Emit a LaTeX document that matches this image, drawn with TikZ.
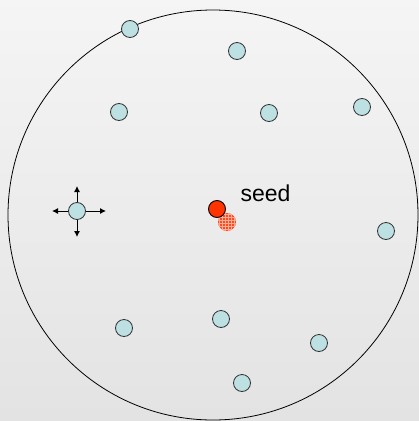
\documentclass[tikz,border=0pt]{standalone}
\usepackage{fontspec}
\setmainfont{Liberation Sans}
\usetikzlibrary{arrows.meta}
\definecolor{dotblue}{HTML}{BDE0E2}
\definecolor{seedred}{HTML}{FF3300}
\definecolor{ghost}{HTML}{FF4A1E}
\begin{document}
\begin{tikzpicture}[x=1pt,y=-1pt,
  dot/.style={circle,draw=black!80,line width=0.8pt,fill=dotblue,minimum size=17pt,inner sep=0pt},
  seeddot/.style={circle,draw=black,line width=0.9pt,fill=seedred,minimum size=17pt,inner sep=0pt},
  movearrow/.style={line width=0.9pt,-{Latex[length=6pt,width=6pt]}}]
\useasboundingbox (0,0) rectangle (419,421);
\shade[top color=black!4,bottom color=black!11] (0,0) rectangle (419,421);
\begin{scope}
\clip (0,0) rectangle (419,421);
\draw[line width=0.8pt] (213,215) circle[radius=205];
\end{scope}
% ghost (moved seed)
\begin{scope}
\clip (227,222) circle[radius=9];
\fill[ghost] (215,210) rectangle (240,235);
\draw[white!55!ghost,line width=0.7pt] \foreach \i in {0,...,8} {(216+3*\i,210) -- (216+3*\i,235) (215,211+3*\i) -- (240,211+3*\i)};
\end{scope}
\node[seeddot] (seed) at (217,209) {};
\node[font=\fontsize{23}{26}\selectfont,anchor=base west] (lbl) at (237,201) {seed};
\node[dot] (d1) at (130,29) {};
\node[dot] (d2) at (237,51) {};
\node[dot] (d3) at (119,112) {};
\node[dot] (d4) at (269,113) {};
\node[dot] (d5) at (362,107) {};
\node[dot] (d7) at (386,231) {};
\node[dot] (d8) at (124,328) {};
\node[dot] (d9) at (221,319) {};
\node[dot] (d10) at (319,343) {};
\node[dot] (d11) at (242,383) {};
\coordinate (up) at (77,186);
\coordinate (dn) at (77,237);
\coordinate (lt) at (52,211);
\coordinate (rt) at (106,211);
\draw[movearrow] (77,211) -- (up);
\draw[movearrow] (77,211) -- (dn);
\draw[movearrow] (77,211) -- (lt);
\draw[movearrow] (77,211) -- (rt);
\node[dot] (d6) at (77,211) {};
\end{tikzpicture}
\end{document}
